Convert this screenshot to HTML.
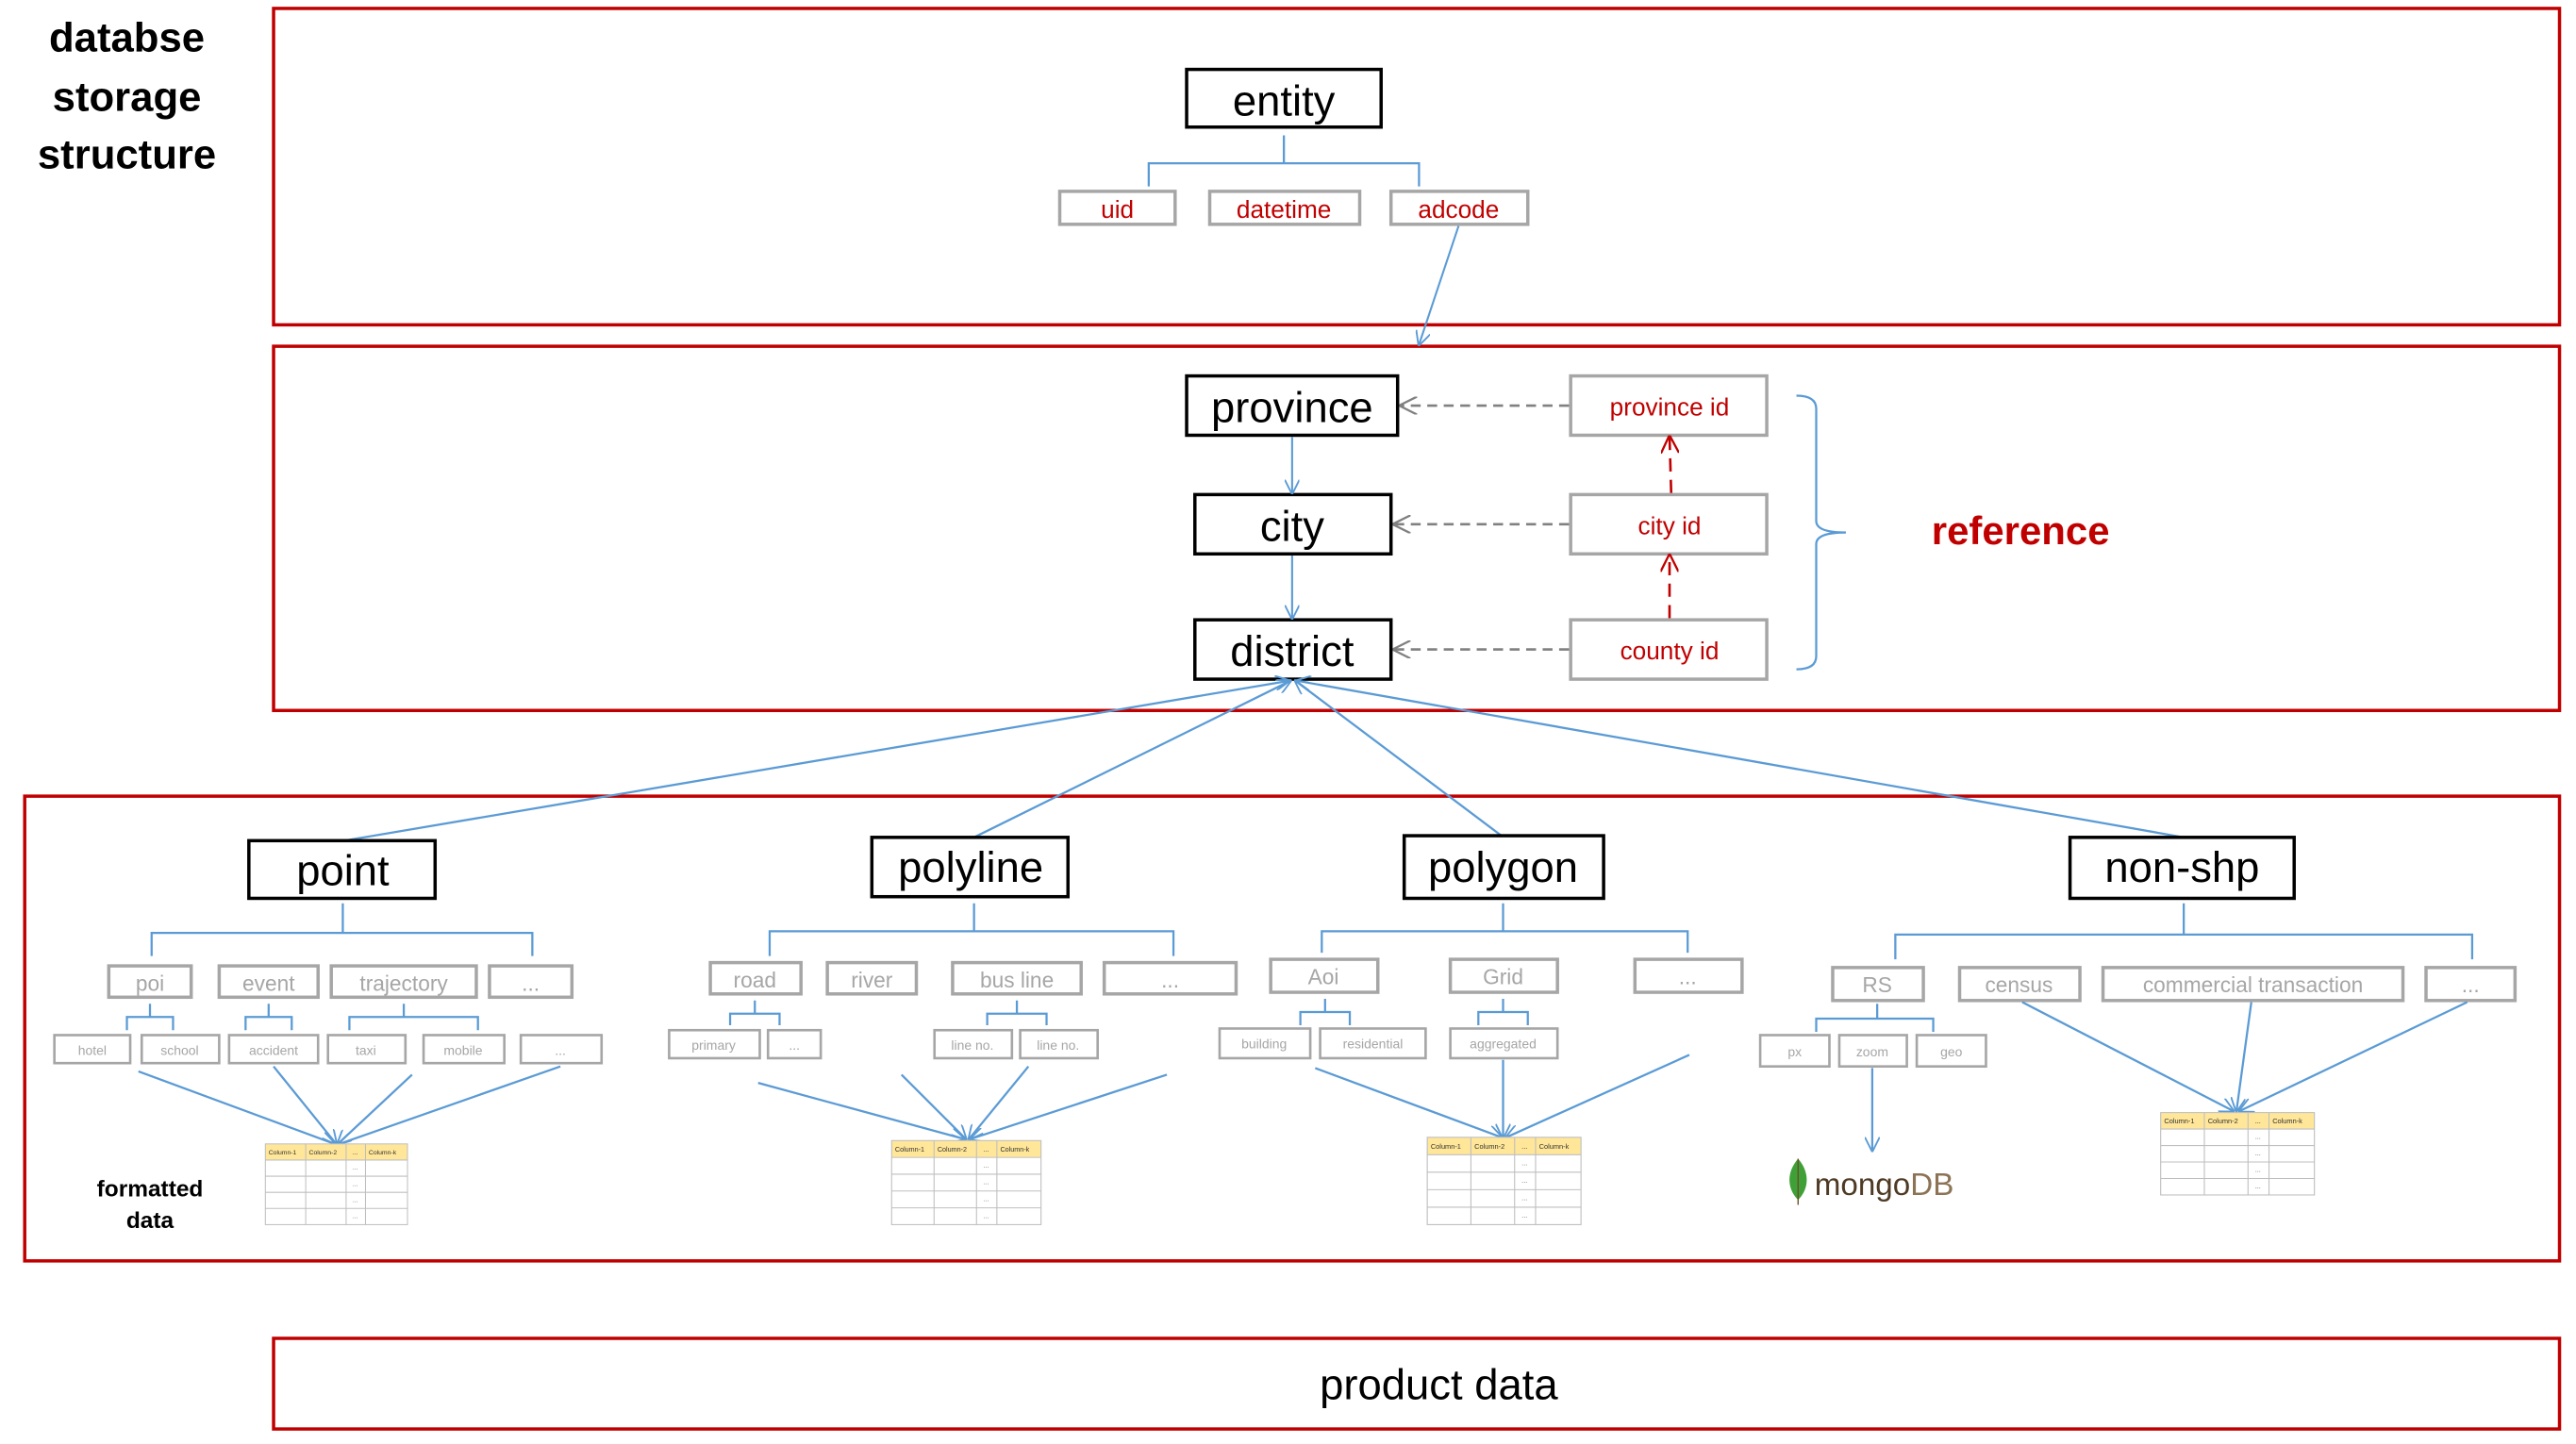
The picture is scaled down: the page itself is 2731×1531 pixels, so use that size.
<!DOCTYPE html>
<html><head><meta charset="utf-8"><style>
html,body{margin:0;padding:0;background:#fff}
svg{display:block}
text{font-family:"Liberation Sans",sans-serif}
</style></head><body>
<svg width="2731" height="1531" viewBox="0 0 1563 876" xmlns="http://www.w3.org/2000/svg">
<defs>
<marker id="ab" viewBox="0 0 10 10" refX="9" refY="5" markerWidth="9" markerHeight="9" orient="auto" markerUnits="userSpaceOnUse"><path d="M0,0 L10,5 L0,10" fill="none" stroke="#5b9bd5" stroke-width="1.2"/></marker>
<marker id="ag" viewBox="0 0 10 10" refX="9" refY="5" markerWidth="11" markerHeight="11" orient="auto" markerUnits="userSpaceOnUse"><path d="M0,0 L10,5 L0,10" fill="none" stroke="#808080" stroke-width="1.2"/></marker>
<marker id="ar" viewBox="0 0 10 10" refX="9" refY="5" markerWidth="11" markerHeight="11" orient="auto" markerUnits="userSpaceOnUse"><path d="M0,0 L10,5 L0,10" fill="none" stroke="#c00000" stroke-width="1.2"/></marker>
<g id="tbl">
<rect x="0" y="0" width="88" height="10" fill="#ffe699"/>
<g stroke="#bfbfbf" stroke-width="0.6" fill="none">
<rect x="0" y="0" width="88" height="50"/>
<line x1="0" y1="10" x2="88" y2="10"/><line x1="0" y1="20" x2="88" y2="20"/><line x1="0" y1="30" x2="88" y2="30"/><line x1="0" y1="40" x2="88" y2="40"/>
<line x1="25" y1="0" x2="25" y2="50"/><line x1="50" y1="0" x2="50" y2="50"/><line x1="62" y1="0" x2="62" y2="50"/>
</g>
<g font-size="4" fill="#333"><text x="2" y="6.5">Column-1</text><text x="27" y="6.5">Column-2</text><text x="54" y="6.5">...</text><text x="64" y="6.5">Column-k</text></g>
<g font-size="4" fill="#666"><text x="54" y="16">...</text><text x="54" y="26">...</text><text x="54" y="36">...</text><text x="54" y="46">...</text></g>
</g>
</defs>

<!-- title -->
<g font-weight="bold" font-size="25" text-anchor="middle" fill="#000">
<text x="77" y="31">databse</text><text x="77" y="67">storage</text><text x="77" y="102">structure</text>
</g>

<!-- red frames -->
<g fill="none" stroke="#c00000" stroke-width="2">
<rect x="166" y="5" width="1387" height="192"/>
<rect x="166" y="210" width="1387" height="221"/>
<rect x="15" y="483" width="1538" height="282"/>
<rect x="166" y="812" width="1387" height="55"/>
</g>
<text x="873" y="849" font-size="26" text-anchor="middle">product data</text>

<!-- entity -->
<rect x="720" y="42" width="118" height="35" fill="#fff" stroke="#000" stroke-width="2"/>
<text x="779" y="70" font-size="26" text-anchor="middle">entity</text>
<path d="M779,82 V99 M697,113 V99 H861 V113" fill="none" stroke="#5b9bd5" stroke-width="1.3"/>
<g fill="#fff" stroke="#a6a6a6" stroke-width="2">
<rect x="643" y="116" width="70" height="20"/><rect x="734" y="116" width="91" height="20"/><rect x="844" y="116" width="83" height="20"/>
</g>
<g fill="#c00000" font-size="15" text-anchor="middle">
<text x="678" y="132">uid</text><text x="779" y="132">datetime</text><text x="885" y="132">adcode</text>
</g>
<line x1="885" y1="137" x2="861" y2="209" stroke="#5b9bd5" stroke-width="1.2" marker-end="url(#ab)"/>

<!-- reference section -->
<g fill="#fff" stroke="#000" stroke-width="2">
<rect x="720" y="228" width="128" height="36"/><rect x="725" y="300" width="119" height="36"/><rect x="725" y="376" width="119" height="36"/>
</g>
<g font-size="26" text-anchor="middle">
<text x="784" y="256">province</text><text x="784" y="328">city</text><text x="784" y="404">district</text>
</g>
<g fill="#fff" stroke="#a6a6a6" stroke-width="2">
<rect x="953" y="228" width="119" height="36"/><rect x="953" y="300" width="119" height="36"/><rect x="953" y="376" width="119" height="36"/>
</g>
<g fill="#c00000" font-size="15" text-anchor="middle">
<text x="1013" y="252">province id</text><text x="1013" y="324">city id</text><text x="1013" y="400">county id</text>
</g>
<g stroke="#808080" stroke-width="1.5" stroke-dasharray="6,4">
<line x1="952" y1="246" x2="850" y2="246" marker-end="url(#ag)"/>
<line x1="952" y1="318" x2="846" y2="318" marker-end="url(#ag)"/>
<line x1="952" y1="394" x2="846" y2="394" marker-end="url(#ag)"/>
</g>
<g stroke="#c00000" stroke-width="1.5" stroke-dasharray="8,5">
<line x1="1014" y1="299" x2="1013" y2="265" marker-end="url(#ar)"/>
<line x1="1013" y1="375" x2="1013" y2="337" marker-end="url(#ar)"/>
</g>
<line x1="784" y1="265" x2="784" y2="299" stroke="#5b9bd5" stroke-width="1.2" marker-end="url(#ab)"/>
<line x1="784" y1="337" x2="784" y2="375" stroke="#5b9bd5" stroke-width="1.2" marker-end="url(#ab)"/>
<path d="M1090,240 Q1102,240 1102,248 V316 Q1102,323 1120,323 Q1102,323 1102,330 V398 Q1102,406 1090,406" fill="none" stroke="#5b9bd5" stroke-width="1.3"/>
<text x="1226" y="330" font-size="24" font-weight="bold" fill="#c00000" text-anchor="middle">reference</text>

<!-- lines district -> categories -->
<g stroke="#5b9bd5" stroke-width="1.3">
<line x1="209" y1="510" x2="782" y2="413" marker-end="url(#ab)"/>
<line x1="591" y1="508" x2="783" y2="413" marker-end="url(#ab)"/>
<line x1="911" y1="507" x2="786" y2="413" marker-end="url(#ab)"/>
<line x1="1325" y1="508" x2="787" y2="413" marker-end="url(#ab)"/>
</g>

<!-- category boxes -->
<g fill="#fff" stroke="#000" stroke-width="2">
<rect x="151" y="510" width="113" height="35"/><rect x="529" y="508" width="119" height="36"/>
<rect x="852" y="507" width="121" height="38"/><rect x="1256" y="508" width="136" height="37"/>
</g>
<g font-size="26" text-anchor="middle">
<text x="208" y="537">point</text><text x="589" y="535">polyline</text><text x="912" y="535">polygon</text><text x="1324" y="535">non-shp</text>
</g>

<!-- brackets -->
<g fill="none" stroke="#5b9bd5" stroke-width="1.3">
<path d="M208,548 V566 M92,580 V566 H323 V580"/>
<path d="M91,609 V617 M77,625 V617 H105 V625"/>
<path d="M163,609 V617 M149,625 V617 H177 V625"/>
<path d="M245,609 V617 M212,625 V617 H290 V625"/>
<path d="M591,548 V565 M467,580 V565 H712 V580"/>
<path d="M458,607 V615 M443,622 V615 H473 V622"/>
<path d="M617,607 V615 M599,622 V615 H635 V622"/>
<path d="M912,548 V565 M802,578 V565 H1024 V578"/>
<path d="M804,606 V614 M789,622 V614 H819 V622"/>
<path d="M912,606 V614 M897,622 V614 H927 V622"/>
<path d="M1325,548 V567 M1150,582 V567 H1500 V582"/>
<path d="M1139,609 V618 M1102,626 V618 H1173 V626"/>
</g>

<!-- level-2 gray boxes -->
<g fill="#fff" stroke="#a6a6a6" stroke-width="2">
<rect x="66" y="586" width="50" height="19"/><rect x="133" y="586" width="60" height="19"/><rect x="201" y="586" width="88" height="19"/><rect x="297" y="586" width="50" height="19"/>
<rect x="431" y="584" width="55" height="19"/><rect x="502" y="584" width="54" height="19"/><rect x="578" y="584" width="78" height="19"/><rect x="670" y="584" width="80" height="19"/>
<rect x="771" y="582" width="65" height="20"/><rect x="880" y="582" width="65" height="20"/><rect x="992" y="582" width="65" height="20"/>
<rect x="1112" y="587" width="55" height="20"/><rect x="1189" y="587" width="73" height="20"/><rect x="1276" y="587" width="182" height="20"/><rect x="1472" y="587" width="54" height="20"/>
</g>
<g fill="#a6a6a6" font-size="13" text-anchor="middle">
<text x="91" y="601">poi</text><text x="163" y="601">event</text><text x="245" y="601">trajectory</text><text x="322" y="601">...</text>
<text x="458" y="599">road</text><text x="529" y="599">river</text><text x="617" y="599">bus line</text><text x="710" y="599">...</text>
<text x="803" y="597">Aoi</text><text x="912" y="597">Grid</text><text x="1024" y="597">...</text>
<text x="1139" y="602">RS</text><text x="1225" y="602">census</text><text x="1367" y="602">commercial transaction</text><text x="1499" y="602">...</text>
</g>

<!-- level-3 boxes -->
<g fill="#fff" stroke="#a6a6a6" stroke-width="1.5">
<rect x="33" y="628" width="46" height="17"/><rect x="86" y="628" width="47" height="17"/><rect x="139" y="628" width="54" height="17"/><rect x="199" y="628" width="47" height="17"/><rect x="257" y="628" width="49" height="17"/><rect x="316" y="628" width="49" height="17"/>
<rect x="406" y="625" width="55" height="17"/><rect x="466" y="625" width="32" height="17"/><rect x="567" y="625" width="47" height="17"/><rect x="619" y="625" width="47" height="17"/>
<rect x="740" y="624" width="55" height="18"/><rect x="801" y="624" width="64" height="18"/><rect x="880" y="624" width="65" height="18"/>
<rect x="1068" y="628" width="42" height="19"/><rect x="1116" y="628" width="41" height="19"/><rect x="1163" y="628" width="42" height="19"/>
</g>
<g fill="#a6a6a6" font-size="8" text-anchor="middle">
<text x="56" y="640">hotel</text><text x="109" y="640">school</text><text x="166" y="640">accident</text><text x="222" y="640">taxi</text><text x="281" y="640">mobile</text><text x="340" y="640">...</text>
<text x="433" y="637">primary</text><text x="482" y="637">...</text><text x="590" y="637">line no.</text><text x="642" y="637">line no.</text>
<text x="767" y="636">building</text><text x="833" y="636">residential</text><text x="912" y="636">aggregated</text>
<text x="1089" y="641">px</text><text x="1136" y="641">zoom</text><text x="1184" y="641">geo</text>
</g>

<!-- arrows to tables -->
<g stroke="#5b9bd5" stroke-width="1.3">
<line x1="84" y1="650" x2="203" y2="694" marker-end="url(#ab)"/>
<line x1="166" y1="647" x2="204" y2="694" marker-end="url(#ab)"/>
<line x1="250" y1="652" x2="205" y2="694" marker-end="url(#ab)"/>
<line x1="340" y1="647" x2="206" y2="694" marker-end="url(#ab)"/>
<line x1="460" y1="657" x2="585" y2="691" marker-end="url(#ab)"/>
<line x1="547" y1="652" x2="586" y2="691" marker-end="url(#ab)"/>
<line x1="624" y1="647" x2="588" y2="691" marker-end="url(#ab)"/>
<line x1="708" y1="652" x2="589" y2="691" marker-end="url(#ab)"/>
<line x1="798" y1="648" x2="911" y2="690" marker-end="url(#ab)"/>
<line x1="912" y1="643" x2="912" y2="690" marker-end="url(#ab)"/>
<line x1="1025" y1="640" x2="914" y2="690" marker-end="url(#ab)"/>
<line x1="1136" y1="648" x2="1136" y2="698" marker-end="url(#ab)"/>
<line x1="1227" y1="608" x2="1355" y2="674" marker-end="url(#ab)"/>
<line x1="1366" y1="608" x2="1357" y2="674" marker-end="url(#ab)"/>
<line x1="1497" y1="608" x2="1359" y2="674" marker-end="url(#ab)"/>
</g>

<!-- tables -->
<use href="#tbl" transform="translate(161,694) scale(0.98,0.98)"/>
<use href="#tbl" transform="translate(541,692) scale(1.03,1.02)"/>
<use href="#tbl" transform="translate(866,690) scale(1.06,1.06)"/>
<use href="#tbl" transform="translate(1311,675) scale(1.06,1.0)"/>

<g font-weight="bold" font-size="14" text-anchor="middle">
<text x="91" y="726">formatted</text><text x="91" y="745">data</text>
</g>

<!-- mongoDB -->
<path d="M1091,703 C1084,711 1084,721 1091,728 C1098,721 1098,711 1091,703 Z" fill="#3fa037"/>
<line x1="1091" y1="703" x2="1091" y2="731" stroke="#6b4f2a" stroke-width="0.8"/>
<text x="1101" y="725" font-family="Liberation Serif,serif" font-size="19" fill="#4f3a24">mongo<tspan fill="#8c7355">DB</tspan></text>
</svg>
</body></html>
